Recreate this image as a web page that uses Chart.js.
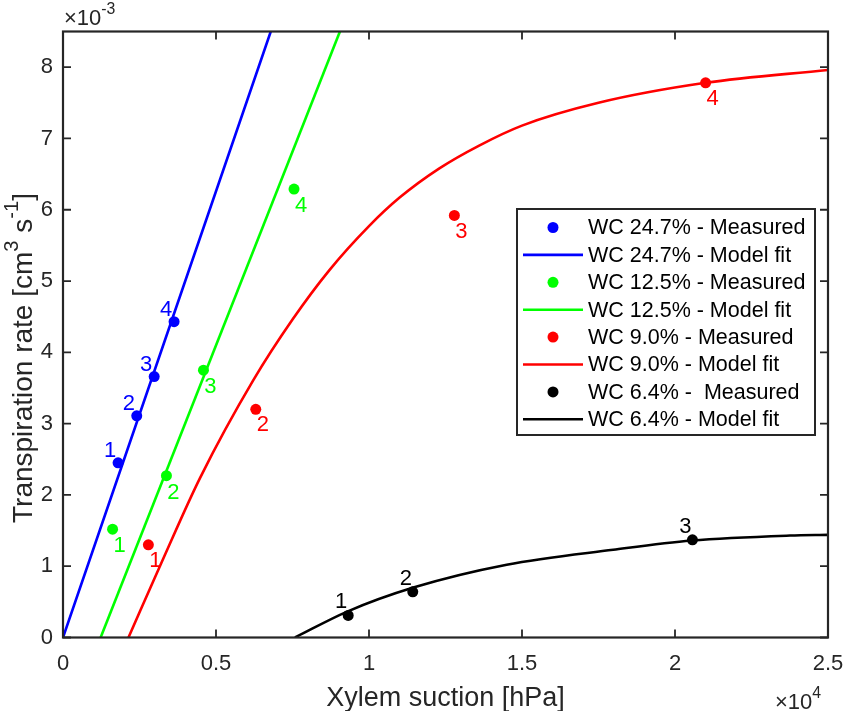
<!DOCTYPE html>
<html>
<head>
<meta charset="utf-8">
<script src="https://cdn.jsdelivr.net/npm/chart.js@4.4.1/dist/chart.umd.min.js"></script>
<style>
  html, body { margin: 0; padding: 0; background: #fff; }
  #wrap { width: 844px; height: 711px; }
</style>
</head>
<body>
<div id="wrap"><canvas id="transpirationChart"></canvas></div>
<script>
// units as on the axes: x in 10^4 hPa, y in 10^-3 cm^3 s^-1
const xTicks = [0, 0.5, 1, 1.5, 2, 2.5];
const yTicks = [0, 1, 2, 3, 4, 5, 6, 7, 8];

const seriesNames = ['WC 24.7%', 'WC 12.5%', 'WC 9.0%', 'WC 6.4%'];
const seriesColors = ['#0000ff', '#00ff00', '#ff0000', '#000000'];

// measured points
const wc247X = [0.180, 0.241, 0.298, 0.363];
const wc247Y = [2.45, 3.11, 3.66, 4.43];
const wc125X = [0.162, 0.338, 0.459, 0.755];
const wc125Y = [1.52, 2.27, 3.75, 6.29];
const wc90X = [0.279, 0.630, 1.279, 2.100];
const wc90Y = [1.30, 3.20, 5.92, 7.78];
const wc64X = [0.932, 1.143, 2.057];
const wc64Y = [0.31, 0.64, 1.37];

// model fit curves
const fit247X = [0, 0.679];
const fit247Y = [0, 8.5];
const fit125X = [0.123, 0.905];
const fit125Y = [0, 8.5];
const fit90X = [0.214, 0.33, 0.448, 0.622, 0.75, 0.87, 1.0, 1.1, 1.23, 1.36, 1.5, 1.75, 2.1, 2.5];
const fit90Y = [0, 1.13, 2.24, 3.61, 4.46, 5.15, 5.77, 6.17, 6.58, 6.90, 7.18, 7.50, 7.78, 7.96];
const fit64X = [0.758, 0.927, 1.145, 1.450, 1.798, 2.054, 2.376, 2.500];
const fit64Y = [0, 0.36, 0.70, 1.02, 1.23, 1.36, 1.43, 1.44];

const measuredX = [wc247X, wc125X, wc90X, wc64X];
const measuredY = [wc247Y, wc125Y, wc90Y, wc64Y];
const fitX = [fit247X, fit125X, fit90X, fit64X];
const fitY = [fit247Y, fit125Y, fit90Y, fit64Y];

const legendTexts = [
  'WC 24.7% - Measured', 'WC 24.7% - Model fit',
  'WC 12.5% - Measured', 'WC 12.5% - Model fit',
  'WC 9.0% - Measured', 'WC 9.0% - Model fit',
  'WC 6.4% -  Measured', 'WC 6.4% - Model fit'
];

// where the point numbers sit relative to their point (px)
const labelOffsets = [[-8, -12], [7, 17], [7, 16], [-7, -13]];

const FONT = '"Liberation Sans", Arial, sans-serif';

function toPoints(xs, ys) {
  return xs.map((x, i) => ({ x: x, y: ys[i] }));
}

const datasets = [];
seriesNames.forEach((name, s) => {
  datasets.push({
    label: name + ' - Measured',
    data: toPoints(measuredX[s], measuredY[s]),
    showLine: false,
    pointRadius: 5.5,
    pointHoverRadius: 5.5,
    pointBackgroundColor: seriesColors[s],
    pointBorderWidth: 0,
    borderColor: seriesColors[s]
  });
  datasets.push({
    label: name + ' - Model fit',
    data: toPoints(fitX[s], fitY[s]),
    showLine: true,
    pointRadius: 0,
    borderWidth: 2.6,
    borderColor: seriesColors[s],
    cubicInterpolationMode: 'monotone',
    fill: false
  });
});

function drawSupText(ctx, parts, x, y, size, align) {
  // parts: [text, isSuperscript]
  let total = 0;
  parts.forEach(p => {
    ctx.font = (p[1] ? size * 0.72 : size) + 'px ' + FONT;
    total += ctx.measureText(p[0]).width;
  });
  let cx = align === 'center' ? x - total / 2 : x;
  parts.forEach(p => {
    ctx.font = (p[1] ? size * 0.72 : size) + 'px ' + FONT;
    ctx.fillText(p[0], cx, p[1] ? y - size * 0.5 : y);
    cx += ctx.measureText(p[0]).width;
  });
}

const decorations = {
  id: 'decorations',
  afterDatasetsDraw(chart) {
    const { ctx, chartArea: a, scales: { x, y } } = chart;
    ctx.save();

    // point numbers
    ctx.font = '22px ' + FONT;
    ctx.textAlign = 'center';
    ctx.textBaseline = 'middle';
    measuredX.forEach((xs, s) => {
      ctx.fillStyle = seriesColors[s];
      xs.forEach((v, i) => {
        const px = x.getPixelForValue(v) + labelOffsets[s][0];
        const py = y.getPixelForValue(measuredY[s][i]) + labelOffsets[s][1];
        ctx.fillText(String(i + 1), px, py);
      });
    });

    // legend
    const lx = 517, ly = 209, lw = 298, lh = 226;
    ctx.fillStyle = '#fff';
    ctx.fillRect(lx, ly, lw, lh);
    ctx.strokeStyle = '#262626';
    ctx.lineWidth = 2;
    ctx.strokeRect(lx, ly, lw, lh);
    ctx.textAlign = 'left';
    ctx.textBaseline = 'middle';
    legendTexts.forEach((t, i) => {
      const ry = 227.5 + i * 27.4;
      const col = seriesColors[Math.floor(i / 2)];
      if (i % 2 === 0) {
        ctx.fillStyle = col;
        ctx.beginPath();
        ctx.arc(553, ry, 5.5, 0, Math.PI * 2);
        ctx.fill();
      } else {
        ctx.strokeStyle = col;
        ctx.lineWidth = 2.6;
        ctx.beginPath();
        ctx.moveTo(523, ry);
        ctx.lineTo(583, ry);
        ctx.stroke();
      }
      ctx.fillStyle = '#000';
      ctx.font = '21.5px ' + FONT;
      ctx.fillText(t, 588, ry + 1);
    });

    // axes box with inward ticks on all sides
    ctx.strokeStyle = '#262626';
    ctx.lineWidth = 2.2;
    ctx.strokeRect(a.left, a.top, a.right - a.left, a.bottom - a.top);
    ctx.lineWidth = 1.8;
    ctx.beginPath();
    xTicks.forEach(v => {
      const px = x.getPixelForValue(v);
      ctx.moveTo(px, a.bottom); ctx.lineTo(px, a.bottom - 8);
      ctx.moveTo(px, a.top); ctx.lineTo(px, a.top + 8);
    });
    yTicks.forEach(v => {
      const py = y.getPixelForValue(v);
      ctx.moveTo(a.left, py); ctx.lineTo(a.left + 8, py);
      ctx.moveTo(a.right, py); ctx.lineTo(a.right - 8, py);
    });
    ctx.stroke();

    // axis titles and exponents
    ctx.fillStyle = '#262626';
    ctx.textBaseline = 'alphabetic';
    ctx.textAlign = 'left';
    drawSupText(ctx, [['Xylem suction [hPa]', false]], (a.left + a.right) / 2, 706, 27, 'center');

    ctx.save();
    ctx.translate(32, 358);
    ctx.rotate(-Math.PI / 2);
    drawSupText(ctx, [['Transpiration rate [cm', false], ['3', true], [' s', false], ['-1', true], [']', false]], 0, 0, 28, 'center');
    ctx.restore();

    drawSupText(ctx, [['\u00d710', false], ['-3', true]], 64, 25, 22, 'left');
    drawSupText(ctx, [['\u00d710', false], ['4', true]], 775, 709, 22, 'left');

    ctx.restore();
  }
};

const ctx = document.getElementById('transpirationChart').getContext('2d');
const transpirationChart = new Chart(ctx, {
  type: 'scatter',
  data: { datasets: datasets },
  options: {
    responsive: true,
    maintainAspectRatio: false,
    animation: false,
    layout: { padding: { top: 31.5, right: 16, left: 0, bottom: 0 } },
    plugins: {
      legend: { display: false },
      tooltip: { enabled: false }
    },
    scales: {
      x: {
        type: 'linear',
        min: 0,
        max: 2.5,
        afterBuildTicks: scale => { scale.ticks = xTicks.map(v => ({ value: v })); },
        afterFit: scale => {
          scale.height = 73.5;
          scale.paddingLeft = 0;
          scale.paddingRight = 0;
        },
        grid: { display: false, drawTicks: false },
        border: { display: false },
        ticks: {
          padding: 13,
          color: '#262626',
          font: { family: FONT, size: 22 },
          maxRotation: 0,
          callback: v => String(v)
        }
      },
      y: {
        type: 'linear',
        min: 0,
        max: 8.5,
        afterBuildTicks: scale => { scale.ticks = yTicks.map(v => ({ value: v })); },
        afterFit: scale => {
          scale.width = 63;
          scale.paddingTop = 0;
          scale.paddingBottom = 0;
        },
        grid: { display: false, drawTicks: false },
        border: { display: false },
        ticks: {
          padding: 10,
          color: '#262626',
          font: { family: FONT, size: 22 },
          callback: v => String(v)
        }
      }
    }
  },
  plugins: [decorations]
});
</script>
</body>
</html>
